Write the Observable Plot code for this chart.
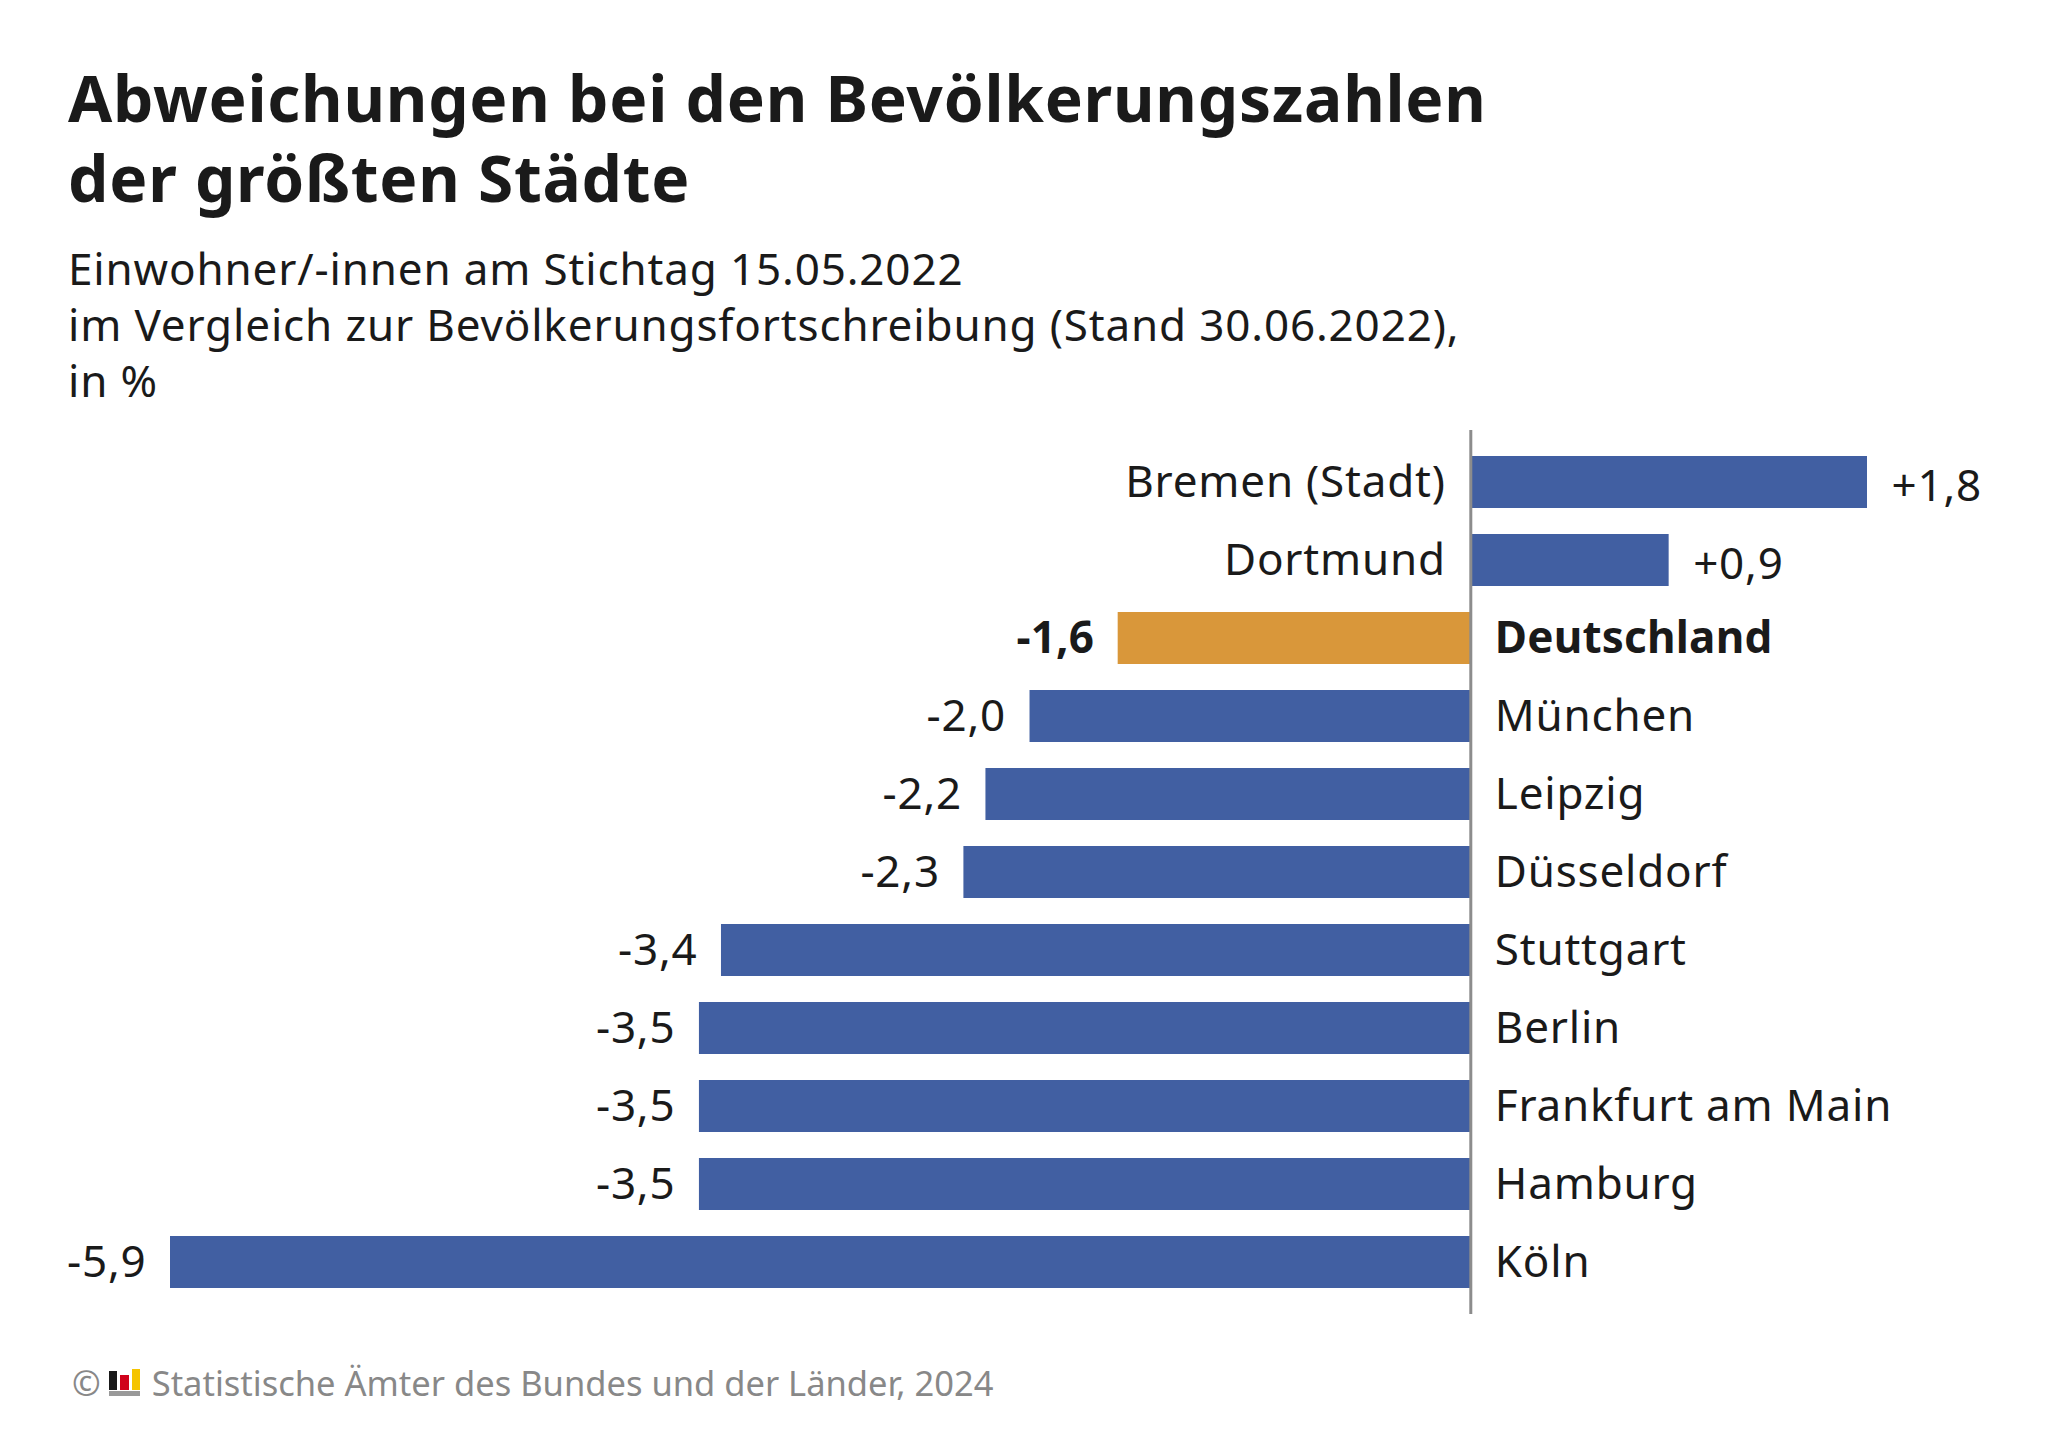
<!DOCTYPE html>
<html>
<head>
<meta charset="utf-8">
<script src="https://cdn.jsdelivr.net/npm/d3@7"></script>
<script src="https://cdn.jsdelivr.net/npm/@observablehq/plot@0.6"></script>
<style>
  html, body { margin: 0; padding: 0; background: #fff; }
  body { width: 2048px; height: 1438px; position: relative; overflow: hidden; font-family: "Noto Sans", sans-serif; color: #1a1a1a; }
  #title { position: absolute; left: 68px; top: 58px; font-size: 64px; line-height: 80px; font-weight: 700; letter-spacing: 0.75px; margin: 0; white-space: nowrap; }
  #subtitle { position: absolute; left: 68px; top: 240px; font-size: 44px; line-height: 56px; font-weight: 400; letter-spacing: 0.85px; margin: 0; white-space: nowrap; }
  #chart { position: absolute; left: 0; top: 420px; }
  #footer { position: absolute; left: 72px; top: 1365px; font-size: 34.5px; line-height: 35px; color: #888; white-space: nowrap; }
  #footer svg { vertical-align: baseline; margin: 0 11px 0 8px; }
</style>
</head>
<body>
<div id="title">Abweichungen bei den Bevölkerungszahlen<br>der größten Städte</div>
<div id="subtitle">Einwohner/-innen am Stichtag 15.05.2022<br>im Vergleich zur Bevölkerungsfortschreibung (Stand 30.06.2022),<br>in %</div>
<div id="chart"></div>
<div id="footer">©<svg width="32" height="28" viewBox="0 0 32 28"><rect x="0" y="3" width="8" height="19" fill="#1a1a1a"/><rect x="11" y="7" width="9" height="15" fill="#d0021b"/><rect x="23" y="1" width="8" height="21" fill="#f5c400"/><rect x="0" y="23" width="31" height="5" fill="#999"/></svg>Statistische Ämter des Bundes und der Länder, 2024</div>
<script>
const cities = ["Bremen (Stadt)", "Dortmund", "Deutschland", "München", "Leipzig", "Düsseldorf", "Stuttgart", "Berlin", "Frankfurt am Main", "Hamburg", "Köln"];
const values = [1.8, 0.9, -1.6, -2.0, -2.2, -2.3, -3.4, -3.5, -3.5, -3.5, -5.9];
const highlight = "Deutschland";

const blue = "#415fa2";
const orange = "#d9973a";
const ink = "#1a1a1a";

const data = cities.map((c, i) => ({city: c, value: values[i]}));
const fmt = v => (v > 0 ? "+" : "") + v.toFixed(1).replace(".", ",");

const font = "Noto Sans";
const fs = 44;

const pos = data.filter(d => d.value >= 0);
const neg = data.filter(d => d.value < 0 && d.city !== highlight);
const hi = data.filter(d => d.city === highlight);

const chart = Plot.plot({
  width: 2048,
  height: 920,
  marginTop: 10,
  marginBottom: 26,
  marginLeft: 170,
  marginRight: 181,
  style: {fontFamily: font, background: "#fff", letterSpacing: "0.8px"},
  x: {domain: [-5.9, 1.8], axis: null},
  y: {domain: cities, padding: 1/3, axis: null},
  marks: [
    Plot.barX(data, {y: "city", x: "value", fill: d => d.city === highlight ? orange : blue}),
    Plot.ruleX([0], {stroke: "#8c8c8c", strokeWidth: 3}),
    // category labels
    Plot.text(pos, {y: "city", x: 0, text: "city", textAnchor: "end", dx: -25, fontSize: fs, fill: ink}),
    Plot.text(neg, {y: "city", x: 0, text: "city", textAnchor: "start", dx: 24, fontSize: fs, fill: ink}),
    Plot.text(hi, {y: "city", x: 0, text: "city", textAnchor: "start", dx: 24, fontSize: fs, fontWeight: 700, fill: ink, style: {letterSpacing: "0.2px"}}),
    // value labels
    Plot.text(pos, {y: "city", x: "value", text: d => fmt(d.value), textAnchor: "start", dx: 24, dy: 4, fontSize: fs, fill: ink}),
    Plot.text(neg, {y: "city", x: "value", text: d => fmt(d.value), textAnchor: "end", dx: -24, fontSize: fs, fill: ink}),
    Plot.text(hi, {y: "city", x: "value", text: d => fmt(d.value), textAnchor: "end", dx: -24, fontSize: fs, fontWeight: 700, fill: ink})
  ]
});
chart.querySelectorAll("g[aria-label='text']").forEach(g => {
  if (g.getAttribute("font-weight") === "700" || g.getAttribute("font-weight") === "bold") g.setAttribute("letter-spacing", "0.2px");
});
document.getElementById("chart").appendChild(chart);
</script>
</body>
</html>
